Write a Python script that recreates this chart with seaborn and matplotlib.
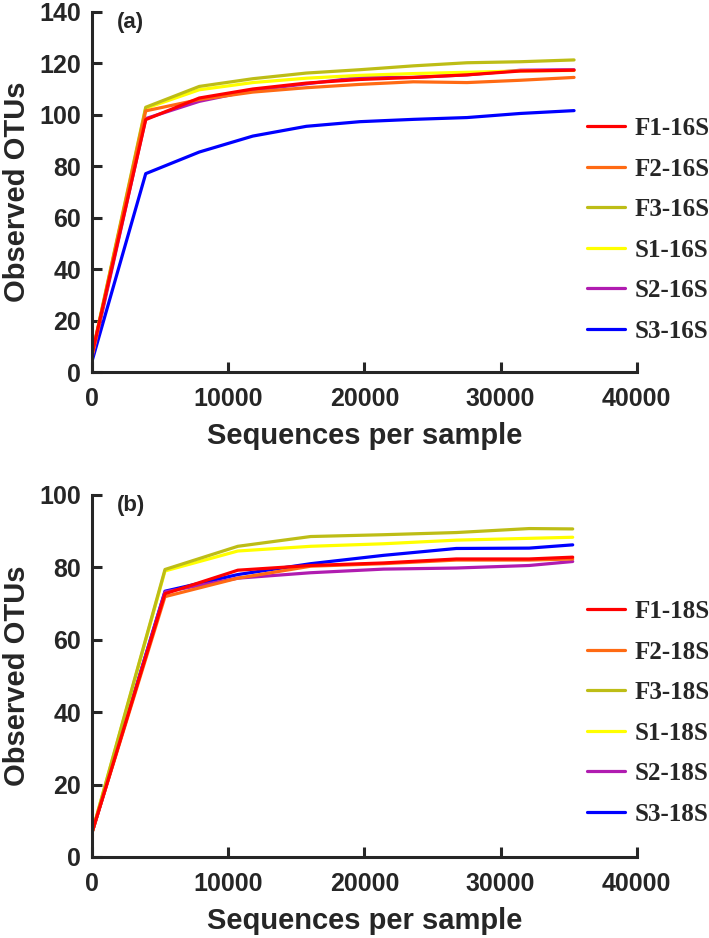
import matplotlib
matplotlib.use('Agg')
import matplotlib.pyplot as plt
import seaborn as sns
import pandas as pd

# rarefaction depths
depth_16s = [10, 3934, 7867, 11800, 15734, 19667, 23600, 27534, 31467, 35400]
depth_18s = [10, 5350, 10700, 16050, 21400, 26750, 32100, 35300]

# observed OTUs, 16S
f1_16s = [7.4, 98.1, 106.5, 110.0, 112.3, 113.7, 114.5, 115.5, 117.0, 117.3]
f2_16s = [7.0, 101.5, 105.9, 108.8, 110.5, 111.8, 112.8, 112.5, 113.4, 114.5]
f3_16s = [7.4, 102.9, 111.0, 114.0, 116.2, 117.5, 119.0, 120.2, 120.6, 121.3]
s1_16s = [7.0, 102.5, 109.7, 112.5, 114.2, 115.3, 116.0, 116.5, 117.0, 117.2]
s2_16s = [6.0, 98.5, 105.2, 109.5, 112.0, 114.5, 114.5, 115.5, 117.3, 117.5]
s3_16s = [4.6, 77.1, 85.5, 91.7, 95.5, 97.3, 98.2, 98.9, 100.5, 101.6]

# observed OTUs, 18S
f1_18s = [7.0, 72.7, 79.2, 80.5, 81.2, 82.3, 82.3, 82.8]
f2_18s = [7.0, 71.9, 77.0, 80.3, 81.0, 82.0, 82.0, 82.3]
f3_18s = [7.0, 79.4, 85.8, 88.5, 89.0, 89.6, 90.7, 90.6]
s1_18s = [7.0, 79.0, 84.5, 85.8, 86.5, 87.5, 88.0, 88.3]
s2_18s = [7.0, 73.2, 77.0, 78.5, 79.5, 79.8, 80.5, 81.6]
s3_18s = [7.0, 73.4, 78.0, 81.0, 83.3, 85.2, 85.3, 86.2]

samples = ['F1', 'F2', 'F3', 'S1', 'S2', 'S3']
colors = ['#ff0000', '#ff6a13', '#bdbd16', '#ffff00', '#b01cb0', '#0000ff']

sns.set_style('ticks')
plt.rcParams['font.family'] = ['Liberation Sans', 'DejaVu Sans']
plt.rcParams['font.weight'] = 'bold'

fig = plt.figure(figsize=(7.09, 9.38), dpi=100)
ax_a = fig.add_axes([0.130, 0.6034, 0.768, 0.384])
ax_b = fig.add_axes([0.130, 0.0864, 0.768, 0.386])


def draw(ax, depth, series, suffix, ymax, panel, legend_y):
    frames = []
    for name, vals in zip(samples, series):
        frames.append(pd.DataFrame({'depth': depth, 'otus': vals,
                                    'sample': name + '-' + suffix}))
    df = pd.concat(frames)
    names = [s + '-' + suffix for s in samples]
    # later samples first so F1 ends up on top
    for name, col in list(zip(names, colors))[::-1]:
        sns.lineplot(data=df[df['sample'] == name], x='depth', y='otus',
                     color=col, linewidth=2.3, ax=ax, label=name)
    handles, labels = ax.get_legend_handles_labels()
    order = [labels.index(n) for n in names]
    ax.legend([handles[i] for i in order], [labels[i] for i in order],
              loc='center left', bbox_to_anchor=(0.828, legend_y),
              bbox_transform=fig.transFigure, frameon=False,
              prop={'family': 'Liberation Serif', 'weight': 'bold', 'size': 18},
              handlelength=1.5, handletextpad=0.4, labelspacing=0.7,
              borderpad=0, borderaxespad=0)

    ax.set_xlim(0, 40000)
    ax.set_ylim(0, ymax)
    ax.set_xticks(range(0, 40001, 10000))
    ax.set_yticks(range(0, ymax + 1, 20))
    sns.despine(ax=ax)
    for sp in ['left', 'bottom']:
        ax.spines[sp].set_linewidth(2.2)
    ax.tick_params(direction='in', length=7.5, width=2.2, labelsize=18)
    ax.tick_params(axis='x', pad=11)
    ax.tick_params(axis='y', pad=8)
    for lab in ax.get_xticklabels() + ax.get_yticklabels():
        lab.set_fontweight('bold')
    ax.set_xlabel('Sequences per sample', fontsize=21, fontweight='bold', labelpad=8)
    ax.set_ylabel('Observed OTUs', fontsize=21, fontweight='bold', labelpad=6)
    ax.text(0.045, 0.97, panel, transform=ax.transAxes, fontsize=16,
            fontweight='bold', va='center', ha='left')


draw(ax_a, depth_16s, [f1_16s, f2_16s, f3_16s, s1_16s, s2_16s, s3_16s],
     '16S', 140, '(a)', 0.7548)
draw(ax_b, depth_18s, [f1_18s, f2_18s, f3_18s, s1_18s, s2_18s, s3_18s],
     '18S', 100, '(b)', 0.2399)

fig.savefig('out.png', dpi=100)
